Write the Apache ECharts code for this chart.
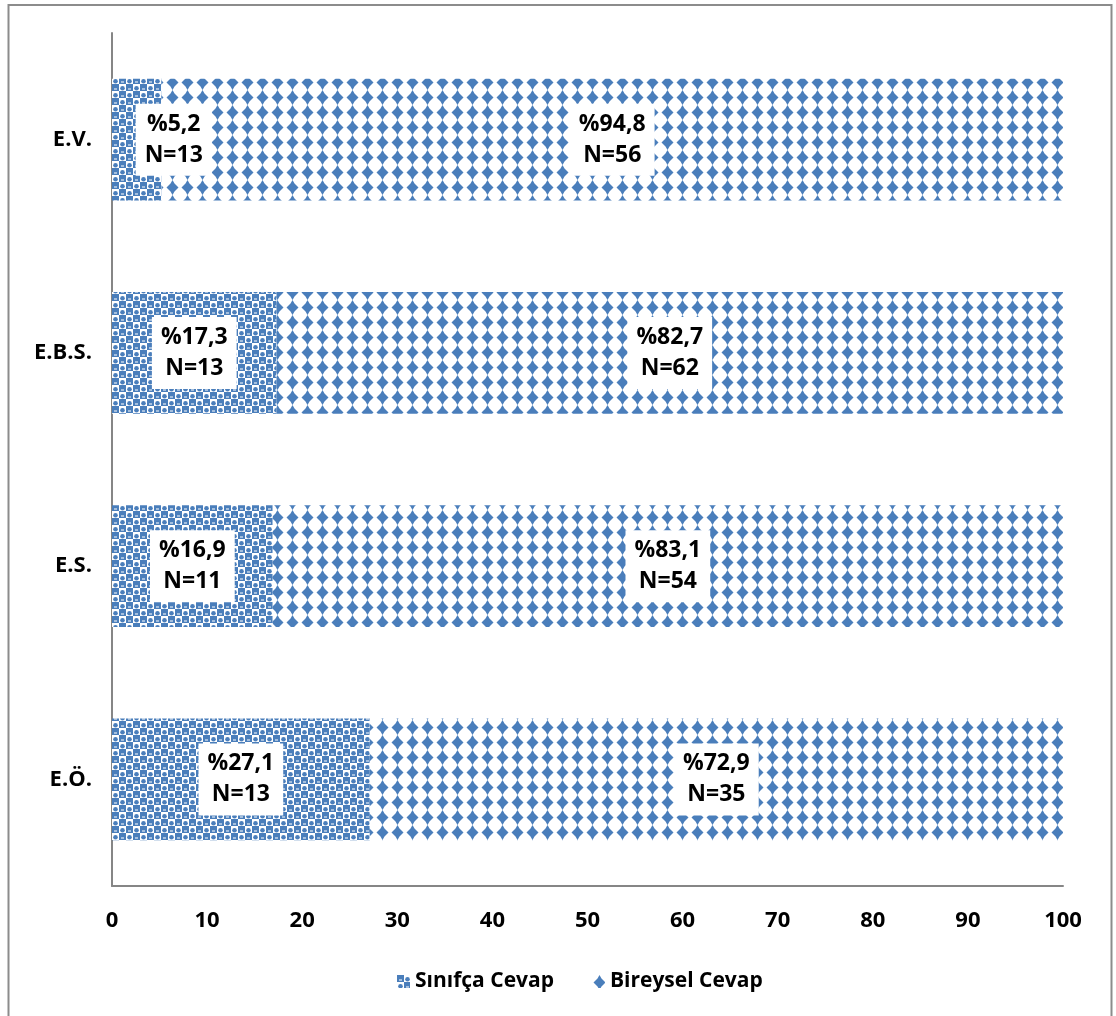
<!DOCTYPE html>
<html>
<head>
<meta charset="utf-8">
<script src="https://cdn.jsdelivr.net/npm/echarts@6/dist/echarts.min.js"></script>
<style>
  html, body { margin: 0; padding: 0; background: #ffffff; }
  #chart { width: 1116px; height: 1016px; }
</style>
</head>
<body>
<div id="chart"></div>
<script>
// Categories listed bottom to top (category y axis starts at the bottom)
const categories = ['E.Ö.', 'E.S.', 'E.B.S.', 'E.V.'];
// Percent shares and counts for each answer type
const sinifcaPct = [27.1, 16.9, 17.3, 5.2];
const sinifcaN = [13, 11, 13, 13];
const bireyselPct = [72.9, 83.1, 82.7, 94.8];
const bireyselN = [35, 54, 62, 56];
const xTickLabels = ['0', '10', '20', '30', '40', '50', '60', '70', '80', '90', '100'];
const seriesNames = ['Sınıfça Cevap', 'Bireysel Cevap'];

const BLUE = '#4A7EBB';
const FONT = '"Open Sans", Lato, sans-serif';
const WEIGHT = 'bold';

// Checkered fill used for the first series
function checkerTile() {
  const s = 7, c = document.createElement('canvas');
  c.width = s * 2; c.height = s * 2;
  const g = c.getContext('2d');
  g.fillStyle = '#ffffff';
  g.fillRect(0, 0, c.width, c.height);
  g.fillStyle = BLUE;
  g.fillRect(0, 0, s, s);
  g.fillRect(s, s, s, s);
  // blue blobs in the white cells
  g.beginPath(); g.arc(s * 1.5, s * 0.6, 2.3, 0, Math.PI * 2); g.fill();
  g.beginPath(); g.arc(s * 0.5, s * 1.6, 2.3, 0, Math.PI * 2); g.fill();
  // small white highlights in the blue cells
  g.fillStyle = '#ffffff';
  g.fillRect(2, 4.5, 3, 1);
  g.fillRect(s + 2, s + 4.5, 3, 1);
  return c;
}

// Diamond fill used for the second series
function diamondTile() {
  const w = 15, h = 15, c = document.createElement('canvas');
  c.width = w; c.height = h;
  const g = c.getContext('2d');
  g.fillStyle = '#ffffff';
  g.fillRect(0, 0, w, h);
  g.fillStyle = BLUE;
  g.beginPath();
  g.moveTo(7.5, 0);
  g.lineTo(9.5, 3.5);
  g.lineTo(13.5, 7.5);
  g.lineTo(9.5, 11.5);
  g.lineTo(7.5, 15);
  g.lineTo(5.5, 11.5);
  g.lineTo(1.5, 7.5);
  g.lineTo(5.5, 3.5);
  g.closePath();
  g.fill();
  return c;
}

const fmt = v => v.toFixed(1).replace('.', ',');

function makeData(pcts, counts) {
  return pcts.map((v, i) => {
    const item = { value: v, n: counts[i] };
    // narrow bars: push the label to the right of the axis
    if (v < 10) item.label = { offset: [37, 0] };
    return item;
  });
}

const labelStyle = {
  show: true,
  position: 'inside',
  backgroundColor: '#ffffff',
  padding: [6, 9, 4, 9],
  color: '#000000',
  fontFamily: FONT,
  fontWeight: WEIGHT,
  fontSize: 23,
  lineHeight: 31,
  formatter: p => '%' + fmt(p.value) + '\nN=' + p.data.n
};

const chart = echarts.init(document.getElementById('chart'), null, { renderer: 'canvas' });

chart.setOption({
  backgroundColor: '#ffffff',
  animation: false,
  textStyle: { fontFamily: FONT },
  graphic: [{
    type: 'rect',
    shape: { x: 8.5, y: 5, width: 1103, height: 1030 },
    style: { fill: 'none', stroke: '#8c8c8c', lineWidth: 2 },
    silent: true
  }],
  legend: {
    data: seriesNames,
    left: 392,
    top: 966,
    icon: 'rect',
    itemWidth: 13,
    itemHeight: 13,
    itemGap: 38,
    textStyle: { fontFamily: FONT, fontWeight: WEIGHT, fontSize: 21, color: '#000' }
  },
  grid: { left: 112, right: 53, top: 33, bottom: 130, containLabel: false },
  xAxis: {
    type: 'value',
    min: 0,
    max: 100,
    interval: 10,
    axisLine: { show: true, lineStyle: { color: '#868686', width: 2 } },
    axisTick: { show: false },
    splitLine: { show: false },
    axisLabel: {
      margin: 24,
      color: '#000',
      fontFamily: FONT,
      fontWeight: WEIGHT,
      fontSize: 22,
      formatter: (v) => xTickLabels[Math.round(v / 10)]
    }
  },
  yAxis: {
    type: 'category',
    data: categories,
    axisLine: { show: true, lineStyle: { color: '#868686', width: 2 } },
    axisTick: { show: false },
    axisLabel: {
      margin: 20,
      color: '#000',
      fontFamily: FONT,
      fontWeight: WEIGHT,
      fontSize: 22
    }
  },
  series: [
    {
      name: seriesNames[0],
      type: 'bar',
      stack: 'total',
      barCategoryGap: '43%',
      itemStyle: { color: { image: checkerTile(), repeat: 'repeat' } },
      label: labelStyle,
      data: makeData(sinifcaPct, sinifcaN)
    },
    {
      name: seriesNames[1],
      type: 'bar',
      stack: 'total',
      barCategoryGap: '43%',
      itemStyle: { color: { image: diamondTile(), repeat: 'repeat' } },
      label: labelStyle,
      data: makeData(bireyselPct, bireyselN)
    }
  ]
});
</script>
</body>
</html>
